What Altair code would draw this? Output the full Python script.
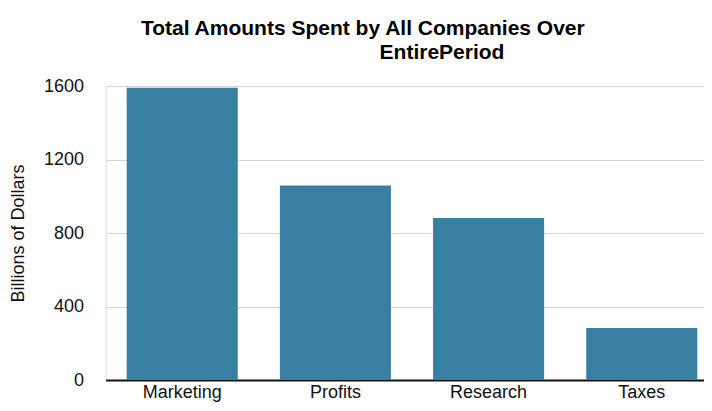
import altair as alt
import pandas as pd

categories = ["Marketing", "Profits", "Research", "Taxes"]
values = [1590, 1058, 882, 283]
y_ticks = [0, 400, 800, 1200, 1600]

title_line1 = "Total Amounts Spent by All Companies Over"
title_line2 = "EntirePeriod"

df = pd.DataFrame({"category": categories, "value": values})
df_title2 = pd.DataFrame({"line": [title_line2]})

FONT = "Liberation Sans"

bars = (
    alt.Chart(df)
    .mark_bar(color="#397FA2")
    .encode(
        x=alt.X(
            "category:N",
            sort=None,
            scale=alt.Scale(paddingInner=0.275, paddingOuter=0.0907, align=0.759),
            axis=alt.Axis(
                title=None,
                labelAngle=0,
                labelFont=FONT,
                labelFontSize=18,
                labelColor="#111111",
                ticks=False,
                domainColor="#111111",
                domainWidth=2,
                labelPadding=3,
                grid=False,
            ),
        ),
        y=alt.Y(
            "value:Q",
            scale=alt.Scale(domain=[0, 1600], nice=False),
            axis=alt.Axis(
                title="Billions of Dollars",
                values=y_ticks,
                format="d",
                domain=False,
                ticks=False,
                labelFont=FONT,
                labelFontSize=18,
                labelColor="#111111",
                labelPadding=22,
                titleFont=FONT,
                titleFontSize=18,
                titleFontWeight="normal",
                titleColor="#111111",
                titlePadding=16,
                gridColor="#d4d4d4",
                gridWidth=1,
            ),
        ),
    )
)

title2 = (
    alt.Chart(df_title2)
    .mark_text(
        font=FONT,
        fontSize=21,
        fontWeight="bold",
        color="#000000",
        align="center",
        baseline="alphabetic",
    )
    .encode(x=alt.value(336.4), y=alt.value(-27), text="line:N")
)

chart = (
    alt.layer(bars, title2)
    .properties(
        width=598.4,
        height=294,
        autosize=alt.AutoSizeParams(type="none"),
        padding={"left": 97.6, "top": 78, "right": 0, "bottom": 23},
        title=alt.Title(
            text=title_line1,
            font=FONT,
            fontSize=21,
            fontWeight="bold",
            color="#000000",
            anchor="middle",
            frame="group",
            baseline="alphabetic",
            offset=0,
            dx=-42,
            dy=14,
        ),
    )
    .configure_view(stroke=None)
    .configure(background="white")
)

chart.save("out.html", embed_options={"renderer": "svg", "actions": False})
